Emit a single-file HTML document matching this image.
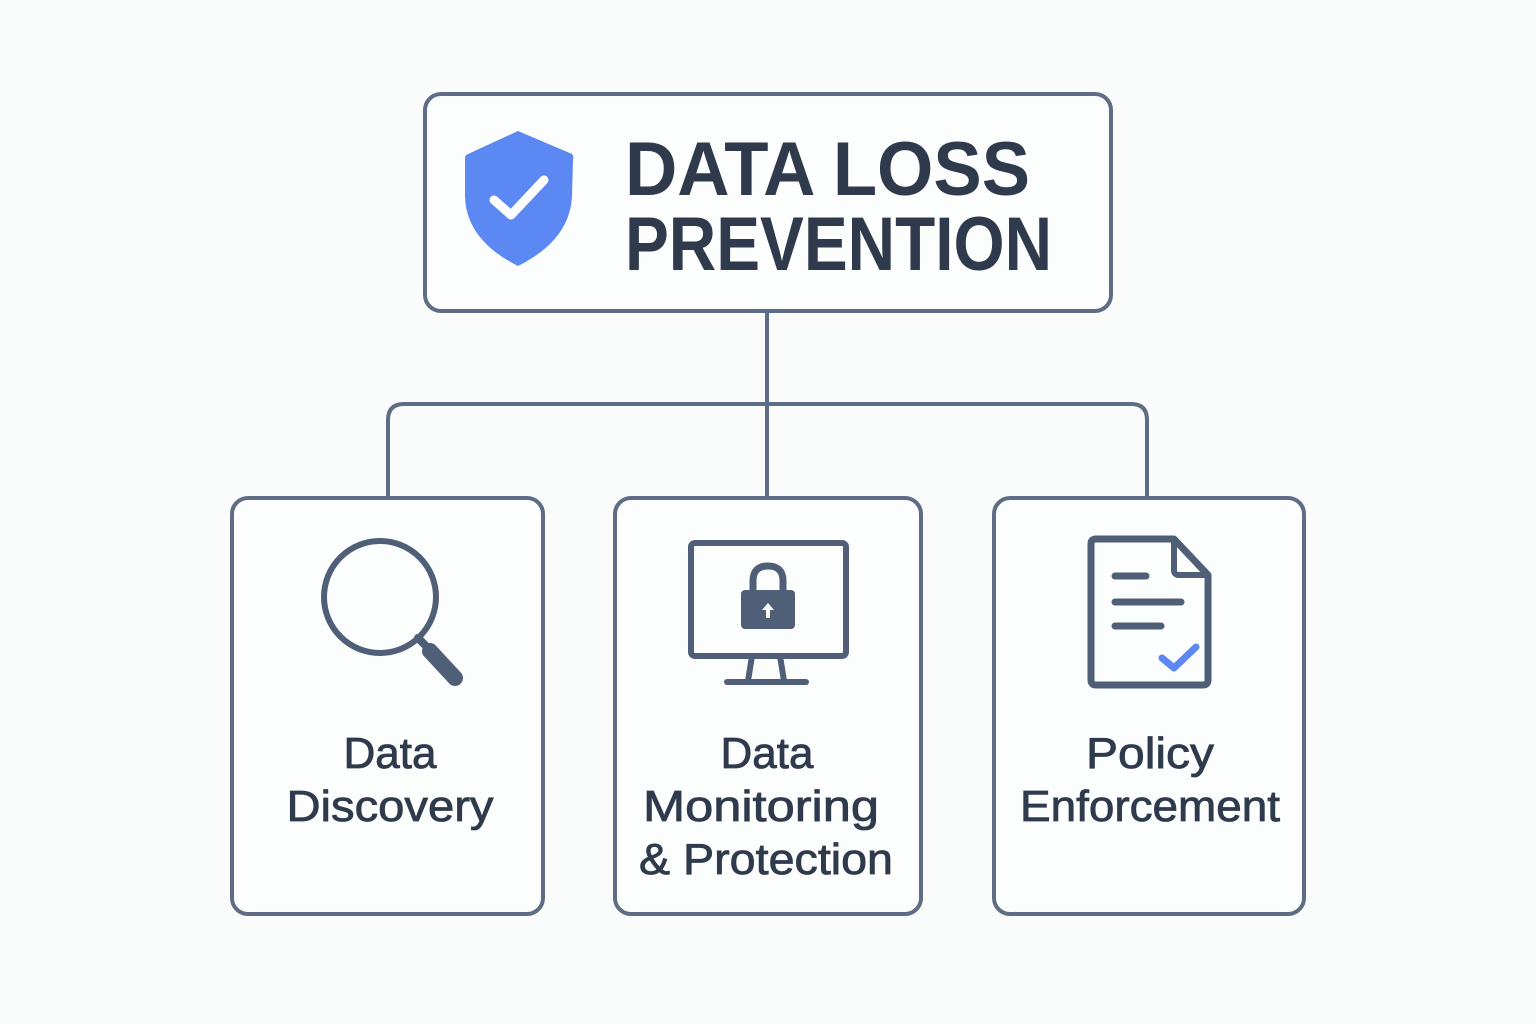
<!DOCTYPE html>
<html><head><meta charset="utf-8"><style>html,body{margin:0;padding:0;background:#fafbfb;}svg{display:block}</style></head>
<body>
<svg width="1536" height="1024" viewBox="0 0 1536 1024" xmlns="http://www.w3.org/2000/svg">
<rect width="1536" height="1024" fill="#fafbfb"/>
<g fill="none" stroke="#5d6d84" stroke-width="4">
<rect x="425" y="94" width="686" height="217" rx="16" fill="#fcfdfd"/>
<line x1="767" y1="311" x2="767" y2="498"/>
<path d="M388 498 V420 Q388 404 404 404 H1131 Q1147 404 1147 420 V498"/>
<rect x="232" y="498" width="311" height="416" rx="16" fill="#fcfdfd"/>
<rect x="615" y="498" width="306" height="416" rx="16" fill="#fcfdfd"/>
<rect x="994" y="498" width="310" height="416" rx="16" fill="#fcfdfd"/>
</g>
<path d="M518 131 L572 154 Q574 156 573 160 L572 196 Q570 240 518 266 Q466 240 465 196 L465 158 Q465 155 468 154 Z" fill="#5b88f2"/>
<path d="M494 200 L511 215 L544 180" fill="none" stroke="#fff" stroke-width="9" stroke-linecap="round" stroke-linejoin="round"/>
<g font-family="Liberation Sans, sans-serif" fill="#2f3a4d">
<text x="625" y="195" font-size="76" font-weight="bold" textLength="405" lengthAdjust="spacingAndGlyphs">DATA LOSS</text>
<text x="625" y="270" font-size="76" font-weight="bold" textLength="427" lengthAdjust="spacingAndGlyphs">PREVENTION</text>
<g font-size="44" text-anchor="middle" stroke="#2f3a4d" stroke-width="0.8">
<text x="390" y="768">Data</text>
<text x="390" y="821" textLength="207" lengthAdjust="spacingAndGlyphs">Discovery</text>
<text x="767" y="768">Data</text>
<text x="761" y="821" textLength="236" lengthAdjust="spacingAndGlyphs">Monitoring</text>
<text x="766" y="874" textLength="254" lengthAdjust="spacingAndGlyphs">&amp; Protection</text>
<text x="1150" y="768" textLength="128" lengthAdjust="spacingAndGlyphs">Policy</text>
<text x="1150" y="821" textLength="260" lengthAdjust="spacingAndGlyphs">Enforcement</text>
</g>
</g>
<circle cx="380" cy="597" r="56" fill="none" stroke="#4f5f77" stroke-width="6"/>
<line x1="418" y1="638" x2="432" y2="652" stroke="#4f5f77" stroke-width="8" stroke-linecap="round"/>
<line x1="430" y1="651" x2="455" y2="678" stroke="#4f5f77" stroke-width="16" stroke-linecap="round"/>
<rect x="691" y="543" width="155" height="113" rx="4" fill="none" stroke="#4f5f77" stroke-width="6"/>
<path d="M752 656 L748 681 M780 656 L784 681" stroke="#4f5f77" stroke-width="6"/>
<line x1="727" y1="682" x2="806" y2="682" stroke="#4f5f77" stroke-width="6" stroke-linecap="round"/>
<path d="M753 592 V581 Q753 566 768 566 Q783 566 783 581 V592" fill="none" stroke="#4f5f77" stroke-width="7"/>
<rect x="741" y="590" width="54" height="39" rx="4" fill="#4f5f77"/>
<path d="M768 603 L762 610 H766 V618 H770 V610 H774 Z" fill="#fff"/>
<path d="M1096 539 H1174 L1208 575 V680 Q1208 685 1203 685 H1096 Q1091 685 1091 680 V544 Q1091 539 1096 539 Z" fill="none" stroke="#4f5f77" stroke-width="7" stroke-linejoin="round"/>
<path d="M1174 539 V570 Q1174 575 1179 575 H1208" fill="none" stroke="#4f5f77" stroke-width="6"/>
<g stroke="#4f5f77" stroke-width="7" stroke-linecap="round">
<line x1="1115" y1="576" x2="1146" y2="576"/>
<line x1="1115" y1="602" x2="1181" y2="602"/>
<line x1="1115" y1="626" x2="1161" y2="626"/>
</g>
<path d="M1162 658 L1174 668 L1196 647" fill="none" stroke="#5b88f2" stroke-width="7" stroke-linecap="round" stroke-linejoin="round"/>
</svg>
</body></html>
